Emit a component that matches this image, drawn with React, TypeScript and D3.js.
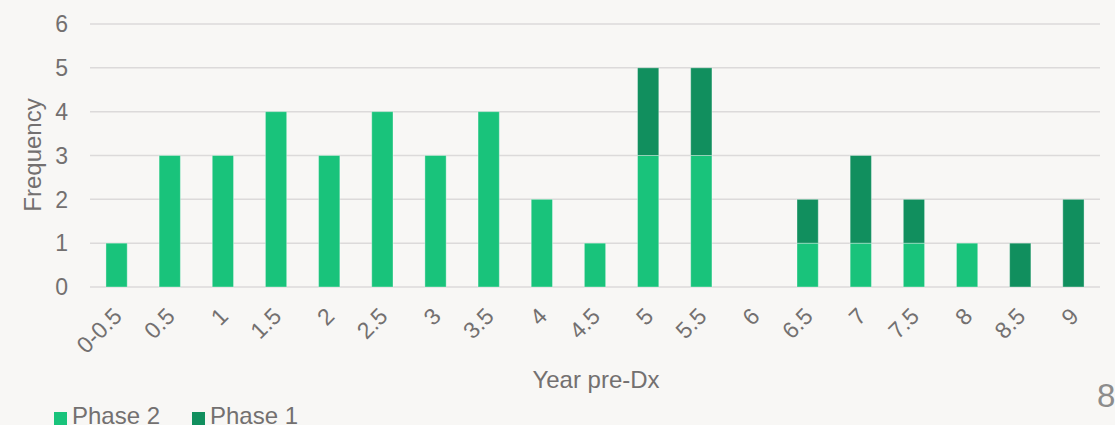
import React from "react";
import * as d3 from "d3";

const categories = ["0-0.5","0.5","1","1.5","2","2.5","3","3.5","4","4.5","5","5.5","6","6.5","7","7.5","8","8.5","9"];
const phase2 = [1,3,3,4,3,4,3,4,2,1,3,3,0,1,1,1,1,0,0];
const phase1 = [0,0,0,0,0,0,0,0,0,0,2,2,0,1,2,1,0,1,2];
const yTicks = [0,1,2,3,4,5,6];
const seriesNames = ["Phase 2", "Phase 1"];
const colors = ["#19C37B", "#118F5E"];

const W = 1115, H = 425;
const M = { left: 90, right: 1100, top: 24, bottom: 287 };
const FONT = "'Liberation Sans', Arial, sans-serif";
const TXT = "#737070";

export default function App() {
  const x = d3.scaleBand<string>().domain(categories).range([M.left, M.right]).paddingInner(0.6).paddingOuter(0.3);
  const y = d3.scaleLinear().domain([0, 6]).range([M.bottom, M.top]);
  const rows = categories.map((c, i) => ({ cat: c, p2: phase2[i], p1: phase1[i] }));
  const stacked = d3.stack<any>().keys(["p2", "p1"])(rows);

  return (
    <svg width={W} height={H} style={{ position: "absolute", left: 0, top: 0, display: "block", background: "#F8F7F5" }}>
      <rect x={0} y={0} width={W} height={H} fill="#F8F7F5" />
      {yTicks.map(t => (
        <g key={t}>
          <line x1={M.left} x2={M.right} y1={y(t)} y2={y(t)} stroke="#DCDADA" strokeWidth={1.5} />
          <text x={68} y={y(t)} dy="0.36em" textAnchor="end" fontFamily={FONT} fontSize={23} fill={TXT}>{t}</text>
        </g>
      ))}
      {stacked.map((s, si) => (
        <g key={si}>
          {s.map((d, i) => d[1] - d[0] > 0 ? (
            <rect key={i} x={x(categories[i])!} width={x.bandwidth()} y={y(d[1])} height={y(d[0]) - y(d[1])}
              fill={colors[si]} stroke="#ffffff" strokeOpacity={0.35} strokeWidth={1} />
          ) : null)}
        </g>
      ))}
      {categories.map(c => {
        const cx = x(c)! + x.bandwidth() / 2 + 1;
        return (
          <text key={c} transform={`translate(${cx},312) rotate(-45)`} textAnchor="end" dominantBaseline="central"
            fontFamily={FONT} fontSize={23} fill={TXT}>{c}</text>
        );
      })}
      <text transform={`translate(41,155) rotate(-90)`} textAnchor="middle" fontFamily={FONT} fontSize={24} fill={TXT}>Frequency</text>
      <text x={596} y={388} textAnchor="middle" fontFamily={FONT} fontSize={24} fill={TXT}>Year pre-Dx</text>
      {seriesNames.map((n, i) => {
        const lx = i === 0 ? 54 : 192;
        return (
          <g key={n}>
            <rect x={lx} y={412} width={13} height={13} fill={colors[i]} />
            <text x={lx + 18} y={424} fontFamily={FONT} fontSize={24} fill={TXT}>{n}</text>
          </g>
        );
      })}
      <text x={1097} y={407} fontFamily={FONT} fontSize={33} fill="#8C8C8C">8</text>
    </svg>
  );
}
